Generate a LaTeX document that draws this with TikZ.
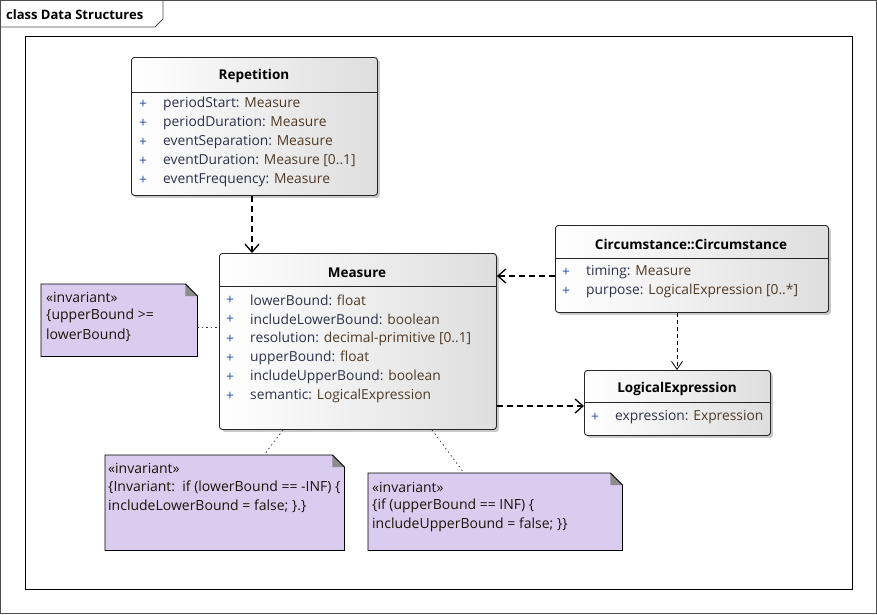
\documentclass[tikz,border=0pt]{standalone}
\usepackage{fontspec}
\setmainfont{Open Sans}
\usetikzlibrary{shadows,arrows.meta}
\definecolor{notefill}{RGB}{218,204,238}
\definecolor{attrname}{RGB}{45,48,75}
\definecolor{attrtype}{RGB}{80,58,38}
\definecolor{plusc}{RGB}{40,80,170}
\tikzset{
  classbox/.style={draw=black!85, line width=0.9pt, rounded corners=3pt, anchor=north west,
    left color=white, right color=black!13,
    drop shadow={shadow xshift=2.5pt, shadow yshift=-2.5pt, fill=black!35, opacity=0.6}},
  notebox/.style={anchor=north west, inner sep=0pt},
  notepath/.style={draw=black, line width=0.8pt, fill=notefill},
  title/.style={font=\fontsize{13.5}{15}\selectfont\bfseries, text=black},
  attr/.style={font=\fontsize{13.8}{15}\selectfont, anchor=west, inner sep=0pt, text=attrname},
  plus/.style={font=\fontsize{13.8}{15}\selectfont, anchor=west, inner sep=0pt, text=plusc},
  notetxt/.style={font=\fontsize{14}{16}\selectfont, anchor=west, inner sep=0pt, text=black!85!brown},
  dep/.style={draw=black, line width=1.6pt, dash pattern=on 6pt off 4pt, -{Straight Barb[length=8pt,width=14pt,line width=1.3pt]}},
  thindep/.style={draw=black, line width=0.7pt, dash pattern=on 4pt off 3pt, -{Straight Barb[length=8pt,width=11pt,line width=0.8pt]}},
  anchorline/.style={draw=black!80, line width=0.7pt, dash pattern=on 1.5pt off 3pt},
}
\newcommand{\attrline}[4]{%
  \node[plus] at (#1,#3) {+};
  \node[attr] at (#1+24,#3) {#2: \textcolor{attrtype}{#4}};}
\begin{document}
\begin{tikzpicture}[x=1pt,y=-1pt]
  \useasboundingbox (0,0) rectangle (877,614);
  \fill[white] (0,0) rectangle (877,614);
  % diagram frame and name tab
  \draw[black!70, line width=0.8pt] (0.5,0.5) rectangle (876,613);
  \draw[black!70, line width=0.8pt] (0.5,27) -- (155,27) -- (163,19) -- (163,0.5);
  \node[font=\fontsize{13}{15}\selectfont\bfseries, anchor=west, inner sep=0pt] (frametitle) at (6,15) {class Data Structures};
  \draw[black, line width=0.8pt] (25,36) rectangle (852,589);

  % Repetition
  \node[classbox, minimum width=246pt, minimum height=138pt] (rep) at (131,57) {};
  \draw[black!85, line width=0.8pt] (131,92) -- (377,92);
  \node[title] (reptitle) at (254,76) {Repetition};
  \attrline{139}{periodStart}{104}{Measure}
  \attrline{139}{periodDuration}{123}{Measure}
  \attrline{139}{eventSeparation}{142}{Measure}
  \attrline{139}{eventDuration}{161}{Measure [0..1]}
  \attrline{139}{eventFrequency}{180}{Measure}

  % Measure
  \node[classbox, minimum width=277pt, minimum height=176pt] (meas) at (219,253) {};
  \draw[black!85, line width=0.8pt] (219,286) -- (496,286);
  \node[title] (meastitle) at (357,273) {Measure};
  \attrline{226}{lowerBound}{300}{float}
  \attrline{226}{includeLowerBound}{319}{boolean}
  \attrline{226}{resolution}{339}{decimal-primitive [0..1]}
  \attrline{226}{upperBound}{358}{float}
  \attrline{226}{includeUpperBound}{377}{boolean}
  \attrline{226}{semantic}{396}{LogicalExpression}

  % Circumstance::Circumstance
  \node[classbox, minimum width=273pt, minimum height=87pt] (circ) at (555,225) {};
  \draw[black!85, line width=0.8pt] (555,258) -- (828,258);
  \node[title] (circtitle) at (691,244) {Circumstance::Circumstance};
  \attrline{562}{timing}{272}{Measure}
  \attrline{562}{purpose}{291}{LogicalExpression [0..*]}

  % LogicalExpression
  \node[classbox, minimum width=186pt, minimum height=65pt] (logx) at (584,370) {};
  \draw[black!85, line width=0.8pt] (584,402) -- (770,402);
  \node[title] (logxtitle) at (677,389) {LogicalExpression};
  \attrline{591}{expression}{417}{Expression}

  % constraint notes
  \node[notebox, minimum width=156pt, minimum height=72pt] (n1) at (41,284) {};
  \draw[notepath] (n1.north west) -- ([xshift=-12pt]n1.north east) -- ([yshift=-12pt]n1.north east) -- (n1.south east) -- (n1.south west) -- cycle;
  \fill[black!45] ([xshift=-12pt]n1.north east) -- ([yshift=-12pt]n1.north east) -- ([xshift=-12pt,yshift=-12pt]n1.north east) -- cycle;
  \draw[black, line width=0.8pt] ([xshift=-12pt]n1.north east) -- ([yshift=-12pt]n1.north east);
  \node[notetxt] at (46,297) {«invariant»};
  \node[notetxt] at (46,316) {\{upperBound >=};
  \node[notetxt] at (46,335) {lowerBound\}};

  \node[notebox, minimum width=239pt, minimum height=95pt] (n2) at (105,455) {};
  \draw[notepath] (n2.north west) -- ([xshift=-12pt]n2.north east) -- ([yshift=-12pt]n2.north east) -- (n2.south east) -- (n2.south west) -- cycle;
  \fill[black!45] ([xshift=-12pt]n2.north east) -- ([yshift=-12pt]n2.north east) -- ([xshift=-12pt,yshift=-12pt]n2.north east) -- cycle;
  \draw[black, line width=0.8pt] ([xshift=-12pt]n2.north east) -- ([yshift=-12pt]n2.north east);
  \node[notetxt] at (108,468) {«invariant»};
  \node[notetxt] at (108,487) {\{Invariant:\ \ if (lowerBound == -INF) \{};
  \node[notetxt] at (108,506) {includeLowerBound = false; \}.\}};

  \node[notebox, minimum width=254pt, minimum height=77pt] (n3) at (368,473) {};
  \draw[notepath] (n3.north west) -- ([xshift=-12pt]n3.north east) -- ([yshift=-12pt]n3.north east) -- (n3.south east) -- (n3.south west) -- cycle;
  \fill[black!45] ([xshift=-12pt]n3.north east) -- ([yshift=-12pt]n3.north east) -- ([xshift=-12pt,yshift=-12pt]n3.north east) -- cycle;
  \draw[black, line width=0.8pt] ([xshift=-12pt]n3.north east) -- ([yshift=-12pt]n3.north east);
  \node[notetxt] at (372,487) {«invariant»};
  \node[notetxt] at (372,506) {\{if (upperBound == INF) \{};
  \node[notetxt] at (372,525) {includeUpperBound = false; \}\}};

  % dependencies
  \draw[dep] (rep.south -| 252,0) -- (meas.north -| 252,0);
  \draw[dep] (circ.west |- 0,276) -- (meas.east |- 0,276);
  \draw[dep] (meas.east |- 0,406) -- (logx.west |- 0,406);
  \draw[thindep] (circ.south -| 677,0) -- (logx.north -| 677,0);

  % note attachments
  \draw[anchorline] (n1.east |- 0,327) -- (meas.west |- 0,327);
  \draw[anchorline] (meas.south -| 283,0) -- (n2.north -| 264,0);
  \draw[anchorline] (meas.south -| 432,0) -- (n3.north -| 464,0);
\end{tikzpicture}
\end{document}
